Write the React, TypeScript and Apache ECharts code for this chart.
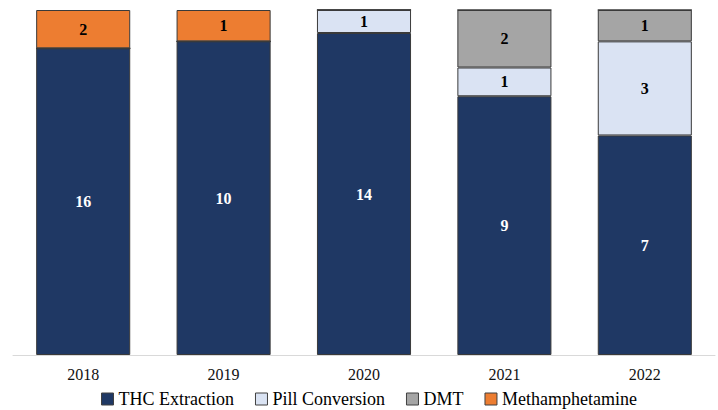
import React, { useEffect, useRef } from "react";
import * as echarts from "echarts";

const years = ["2018", "2019", "2020", "2021", "2022"];
const thcExtraction = [16, 10, 14, 9, 7];
const pillConversion = [0, 0, 1, 1, 3];
const dmt = [0, 0, 0, 2, 1];
const methamphetamine = [2, 1, 0, 0, 0];

const seriesDefs = [
  { name: "THC Extraction", values: thcExtraction, color: "#1F3864", labelColor: "#FFFFFF" },
  { name: "Pill Conversion", values: pillConversion, color: "#DAE3F3", labelColor: "#000000" },
  { name: "DMT", values: dmt, color: "#A5A5A5", labelColor: "#000000" },
  { name: "Methamphetamine", values: methamphetamine, color: "#ED7D31", labelColor: "#000000" },
];

const FONT = "Liberation Serif";

export default function App() {
  const ref = useRef<HTMLDivElement>(null);
  useEffect(() => {
    document.body.style.margin = "0";
    const chart = echarts.init(ref.current!, null, { renderer: "svg" });
    const totals = years.map((_, i) => seriesDefs.reduce((s, d) => s + d.values[i], 0));
    chart.setOption({
      animation: false,
      textStyle: { fontFamily: FONT },
      grid: { left: 13, right: 3, top: 10, bottom: 55, containLabel: false },
      legend: {
        bottom: -3,
        left: 96,
        itemWidth: 12,
        itemHeight: 12,
        itemGap: 21,
        icon: "rect",
        textStyle: { fontFamily: FONT, fontSize: 18, color: "#000" },
        data: seriesDefs.map((d) => ({
          name: d.name,
          itemStyle: { borderColor: "#404040", borderWidth: 1 },
        })),
      },
      xAxis: {
        type: "category",
        data: years,
        axisLine: { lineStyle: { color: "#D9D9D9", width: 1 } },
        axisTick: { show: false },
        axisLabel: { fontFamily: FONT, fontSize: 16, color: "#111", margin: 11 },
      },
      yAxis: {
        type: "value",
        min: 0,
        max: 100,
        show: false,
        splitLine: { show: false },
      },
      series: seriesDefs.map((d) => ({
        name: d.name,
        type: "bar",
        stack: "total",
        barWidth: "67%",
        data: d.values.map((v, i) => (v / totals[i]) * 100),
        itemStyle: { color: d.color, borderColor: "#3A3A3A", borderWidth: 1 },
        label: {
          show: true,
          position: "inside",
          fontFamily: FONT,
          fontWeight: "bold",
          fontSize: 16,
          color: d.labelColor,
          formatter: (p: any) => {
            const v = d.values[p.dataIndex];
            return v ? String(v) : "";
          },
        },
      })),
    });
    return () => chart.dispose();
  }, []);
  return <div ref={ref} style={{ width: 718, height: 410 }} />;
}
